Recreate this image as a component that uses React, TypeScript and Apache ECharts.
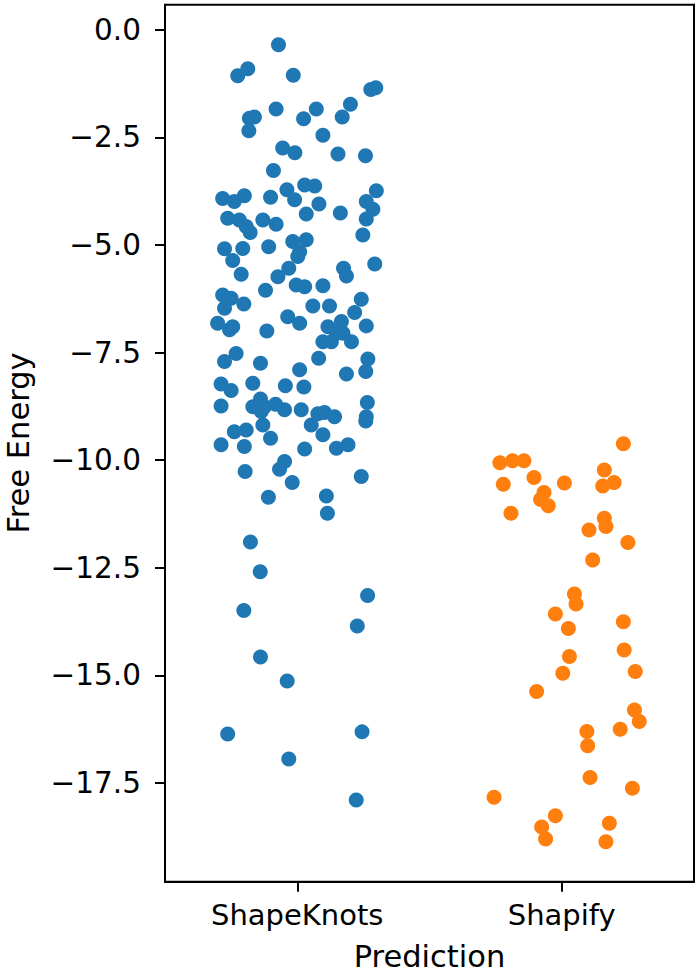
import React, { useEffect, useRef } from "react";
import * as echarts from "echarts";

const categories = ["ShapeKnots", "Shapify"];
const yTicks = [0, -2.5, -5, -7.5, -10, -12.5, -15, -17.5];

// ShapeKnots: horizontal jitter offset (category units) and free energy
const shapeKnotsJitter = [
  -0.071, -0.187, -0.225, -0.015, 0.278, 0.297, -0.08, 0.201, 0.072, 0.024,
  0.17, -0.181, -0.162, -0.183, 0.097, -0.055, -0.009, 0.154, 0.258, -0.09,
  0.028, 0.066, -0.039, -0.01, 0.299, -0.282, -0.238, -0.2, -0.101, 0.082,
  0.034, 0.163, 0.261, 0.286, 0.261, -0.263, -0.219, -0.193, -0.178, -0.13,
  -0.08, 0.248, -0.275, -0.206, -0.108, -0.017, 0.034, 0.009, 0.002, -0.244,
  -0.212, -0.032, -0.073, 0.175, 0.186, 0.293, -0.12, -0.004, 0.028, 0.097,
  -0.282, -0.25, -0.275, -0.202, 0.242, 0.059, 0.122, 0.217, -0.036, 0.009,
  -0.301, -0.256, -0.244, -0.115, 0.116, 0.167, 0.148, 0.173, 0.261, 0.097,
  0.129, 0.205, -0.275, -0.231, -0.139, 0.081, 0.009, 0.267, 0.259, 0.186,
  -0.288, -0.25, -0.168, -0.045, 0.025, 0.265, -0.288, -0.139, -0.168, -0.136,
  -0.124, -0.082, -0.048, 0.015, 0.078, 0.103, 0.141, 0.053, 0.097, 0.261,
  0.259, -0.13, -0.238, -0.193, -0.101, -0.288, -0.2, 0.028, 0.192, 0.148,
  -0.197, -0.048, -0.067, -0.019, 0.242, -0.109, 0.11, 0.114, -0.177, -0.14,
  0.266, -0.202, 0.227, -0.139, -0.038, -0.263, 0.245, -0.032, 0.223,
];
const shapeKnotsEnergy = [
  -0.35, -0.91, -1.07, -1.06, -1.39, -1.35, -1.84, -1.73, -1.84, -2.07,
  -2.03, -2.06, -2.03, -2.35, -2.45, -2.75, -2.86, -2.89, -2.93, -3.27,
  -3.61, -3.63, -3.72, -3.95, -3.74, -3.92, -3.99, -3.86, -3.89, -4.05,
  -4.28, -4.26, -3.99, -4.17, -4.4, -4.38, -4.42, -4.57, -4.71, -4.42,
  -4.52, -4.77, -5.09, -5.08, -5.04, -4.92, -4.88, -5.16, -5.27, -5.36,
  -5.68, -5.54, -5.74, -5.54, -5.72, -5.44, -6.05, -5.93, -5.97, -5.95,
  -6.16, -6.24, -6.47, -6.37, -6.26, -6.42, -6.42, -6.57, -6.67, -6.82,
  -6.82, -6.97, -6.9, -7.0, -6.9, -6.78, -7.05, -7.05, -6.88, -7.25,
  -7.25, -7.25, -7.71, -7.52, -7.75, -7.63, -7.9, -7.65, -7.94, -8.0,
  -8.23, -8.38, -8.21, -8.27, -8.3, -8.66, -8.74, -8.58, -8.76, -8.87,
  -8.76, -8.7, -8.83, -8.83, -8.92, -8.89, -8.99, -9.18, -9.41, -8.99,
  -9.09, -9.18, -9.34, -9.3, -9.49, -9.64, -9.68, -9.74, -9.64, -9.72,
  -10.26, -10.03, -10.21, -10.52, -10.38, -10.86, -10.83, -11.23, -11.9, -12.59,
  -13.14, -13.49, -13.85, -14.57, -15.13, -16.36, -16.31, -16.94, -17.89,
];

// Shapify
const shapifyJitter = [
  0.233, -0.234, -0.186, -0.143, -0.221, -0.105, 0.01, 0.161, 0.155, 0.198,
  -0.067, -0.08, -0.051, -0.192, 0.161, 0.167, 0.103, 0.25, 0.117, 0.048,
  0.054, -0.024, 0.025, 0.233, 0.236, 0.029, 0.004, 0.278, -0.095, 0.275,
  0.293, 0.221, 0.095, 0.098, 0.107, 0.267, -0.256, -0.024, -0.076, -0.061,
  0.18, 0.167,
];
const shapifyEnergy = [
  -9.62, -10.06, -10.01, -10.01, -10.56, -10.4, -10.53, -10.23, -10.6, -10.52,
  -10.75, -10.91, -11.06, -11.23, -11.35, -11.54, -11.62, -11.91, -12.32, -13.11,
  -13.34, -13.57, -13.91, -13.75, -14.41, -14.56, -14.95, -14.91, -15.37, -15.8,
  -16.07, -16.25, -16.3, -16.63, -17.37, -17.62, -17.83, -18.26, -18.52, -18.8,
  -18.43, -18.86,
];

const FONT = "DejaVu Sans";

export default function App() {
  const ref = useRef<HTMLDivElement>(null);
  useEffect(() => {
    if (!ref.current) return;
    const chart = echarts.init(ref.current, undefined, { renderer: "svg" });
    const blue = shapeKnotsEnergy.map((v, i) => [0 + shapeKnotsJitter[i], v]);
    const orange = shapifyEnergy.map((v, i) => [1 + shapifyJitter[i], v]);
    const fmt = (v: number) => (v < 0 ? "\u2212" : "") + Math.abs(v).toFixed(1);
    chart.setOption({
      animation: false,
      backgroundColor: "#fff",
      grid: {
        left: 165,
        top: 4.7,
        width: 529,
        height: 877,
        show: true,
        borderColor: "#000",
        borderWidth: 2,
        backgroundColor: "transparent",
      },
      xAxis: [
        {
          type: "category",
          data: categories,
          boundaryGap: true,
          position: "bottom",
          axisLine: { show: true, onZero: false, lineStyle: { color: "#000", width: 2 } },
          axisTick: { show: true, alignWithLabel: true, length: 10, lineStyle: { color: "#000", width: 2 } },
          axisLabel: { fontSize: 29, fontFamily: FONT, color: "#000", margin: 19 },
          splitLine: { show: false },
        },
        {
          type: "value",
          min: -0.5,
          max: 1.5,
          position: "top",
          show: false,
          axisLine: { show: false, onZero: false },
          axisTick: { show: false },
          axisLabel: { show: false },
          splitLine: { show: false },
        },
      ],
      yAxis: {
        type: "value",
        min: -19.79,
        max: 0.58,
        position: "left",
        axisLine: { show: true, onZero: false, lineStyle: { color: "#000", width: 2 } },
        axisTick: { show: true, length: 10, customValues: yTicks, lineStyle: { color: "#000", width: 2 } },
        axisLabel: {
          customValues: yTicks,
          formatter: fmt,
          fontSize: 29.5,
          fontFamily: FONT,
          color: "#000",
          margin: 24,
        },
        splitLine: { show: false },
      },
      series: [
        {
          type: "scatter",
          xAxisIndex: 1,
          data: blue,
          symbolSize: 15,
          itemStyle: { color: "#1f77b4", opacity: 1 },
        },
        {
          type: "scatter",
          xAxisIndex: 1,
          data: orange,
          symbolSize: 15,
          itemStyle: { color: "#ff7f0e", opacity: 1 },
        },
      ],
      graphic: [
        {
          type: "text",
          x: 18,
          y: 443,
          rotation: Math.PI / 2,
          style: {
            text: "Free Energy",
            fontSize: 30.5,
            fontFamily: FONT,
            fill: "#000",
            textAlign: "center",
            textVerticalAlign: "middle",
          },
        },
        {
          type: "text",
          x: 429.5,
          y: 956,
          style: {
            text: "Prediction",
            fontSize: 30.5,
            fontFamily: FONT,
            fill: "#000",
            textAlign: "center",
            textVerticalAlign: "middle",
          },
        },
      ],
    });
    return () => chart.dispose();
  }, []);
  return (
    <div
      ref={ref}
      style={{ position: "fixed", left: 0, top: 0, width: 700, height: 973 }}
    />
  );
}
